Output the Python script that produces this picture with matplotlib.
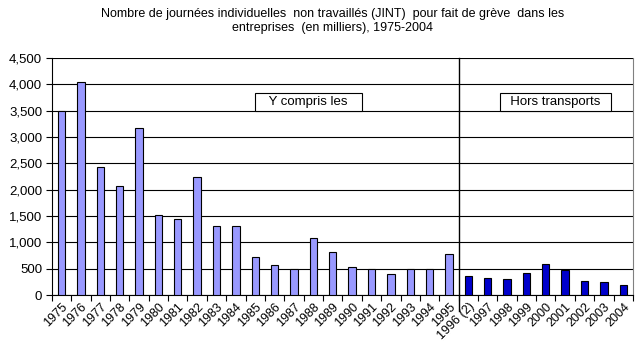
import matplotlib
matplotlib.use("Agg")
import matplotlib.pyplot as plt
import numpy as np

plt.rcParams["font.family"] = ["Liberation Sans", "DejaVu Sans"]

# Data (thousands of days)
years = [str(y) for y in range(1975, 1996)] + ["1996 (2)"] + [str(y) for y in range(1997, 2005)]
jint = [3500, 4050, 2440, 2080, 3170, 1520, 1440, 2250, 1310, 1310,
        730, 570, 500, 1090, 810, 530, 500, 400, 500, 500, 790,
        360, 330, 310, 420, 590, 470, 260, 240, 200]
n_with_transport = 21  # 1975-1995 include transports

x = np.arange(len(years))
colors = ["#9999FF"] * n_with_transport + ["#0000CC"] * (len(years) - n_with_transport)

fig = plt.figure(figsize=(6.4, 3.56), dpi=100)
ax = fig.add_axes([0.081, 0.171, 0.908, 0.666])

ax.bar(x, jint, width=0.38, color=colors, edgecolor="black", linewidth=0.8, zorder=3)

ax.set_xlim(-0.5, len(years) - 0.5)
ax.set_ylim(0, 4500)
ax.set_yticks(np.arange(0, 4501, 500))
ax.set_yticklabels([f"{v:,}" for v in range(0, 4501, 500)], fontsize=9.5)
ax.yaxis.grid(True, color="black", linewidth=0.8, zorder=0)

ax.set_xticks(x)
ax.set_xticklabels(years, rotation=45, ha="right", rotation_mode="anchor", fontsize=9)
ax.tick_params(axis="x", length=0, pad=4)
# category boundary ticks
ax.set_xticks(np.arange(-0.5, len(years)), minor=True)
ax.tick_params(axis="x", which="minor", length=4, direction="out", width=0.8)
ax.tick_params(axis="y", length=4, width=0.8, pad=3)

ax.spines["top"].set_visible(False)
ax.spines["left"].set_linewidth(0.8)
ax.spines["bottom"].set_linewidth(0.8)
ax.spines["right"].set_color("#808080")
ax.spines["right"].set_linewidth(0.8)

# divider between series
ax.axvline(n_with_transport - 0.5, ymin=-0.065, ymax=1, color="black", linewidth=1.0, clip_on=False, zorder=4)

box = dict(boxstyle="square,pad=0.25", facecolor="white", edgecolor="black", linewidth=0.8)
ax.text(0.441, 0.815, "   Y compris les   ", transform=ax.transAxes, fontsize=9.5,
        ha="center", va="center", bbox=box, zorder=5)
ax.text(0.867, 0.815, "  Hors transports  ", transform=ax.transAxes, fontsize=9.5,
        ha="center", va="center", bbox=box, zorder=5)

fig.text(0.52, 0.94,
         "Nombre de journées individuelles  non travaillés (JINT)  pour fait de grève  dans les\n"
         "entreprises  (en milliers), 1975-2004",
         ha="center", va="center", fontsize=9, linespacing=1.25)

fig.savefig("out.png", dpi=100)
